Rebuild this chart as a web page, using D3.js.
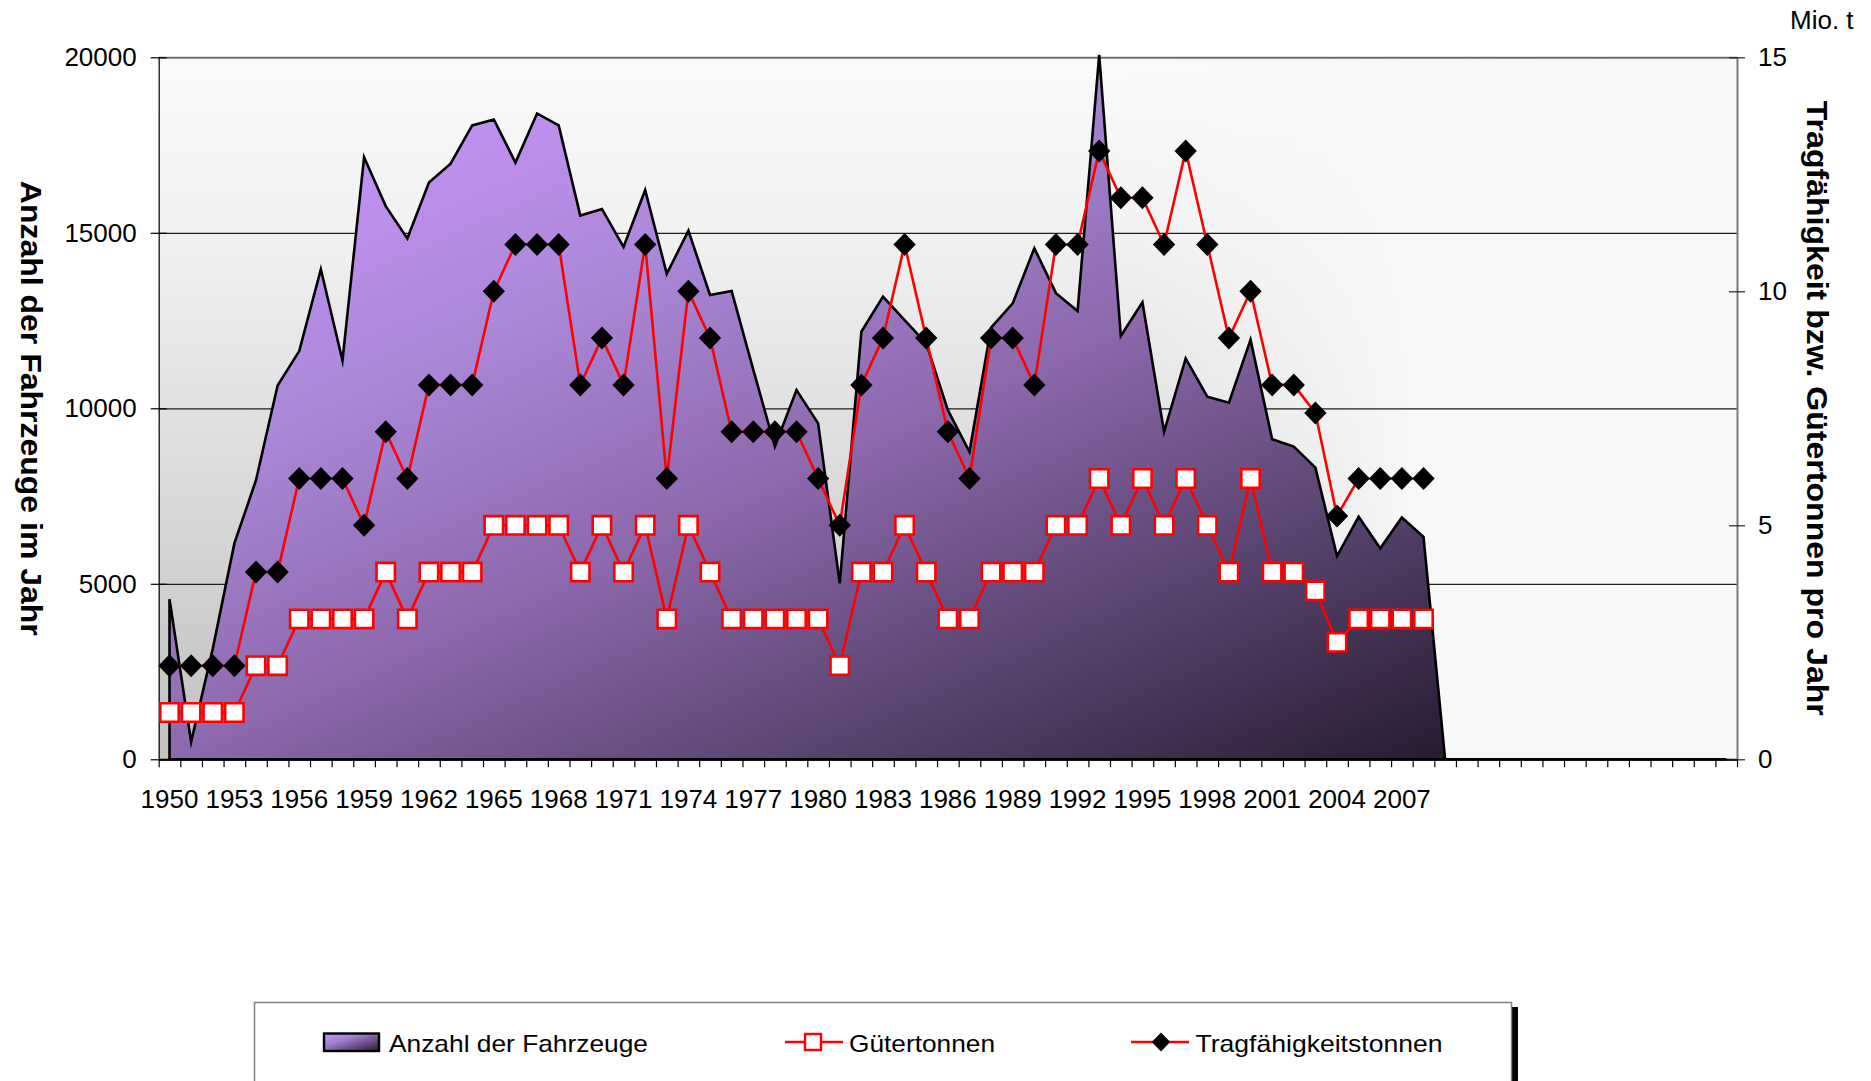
<!DOCTYPE html>
<html><head><meta charset="utf-8">
<script src="https://cdn.jsdelivr.net/npm/d3@7/dist/d3.min.js"></script>
<style>
body{margin:0;background:#fff}
svg{display:block}
text{font-family:"Liberation Sans",Arial,Helvetica,sans-serif;fill:#000}
</style>
</head><body>
<svg id="c" width="1871" height="1081"></svg>
<script>
// ---------- DATA ----------
const years = [1950,1951,1952,1953,1954,1955,1956,1957,1958,1959,
  1960,1961,1962,1963,1964,1965,1966,1967,1968,1969,
  1970,1971,1972,1973,1974,1975,1976,1977,1978,1979,
  1980,1981,1982,1983,1984,1985,1986,1987,1988,1989,
  1990,1991,1992,1993,1994,1995,1996,1997,1998,1999,
  2000,2001,2002,2003,2004,2005,2006,2007,2008,2009,
  2010,2011,2012,2013,2014,2015,2016,2017,2018,2019,
  2020,2021,2022];
const yearLabels = [1950,1953,1956,1959,1962,1965,1968,1971,1974,1977,1980,1983,1986,1989,1992,1995,1998,2001,2004,2007];

// Anzahl der Fahrzeuge (left axis)
const fahrzeuge = [4560,500,3150,6150,7950,10650,11630,13960,11360,17150,
  15760,14840,16430,16970,18060,18230,17000,18400,18060,15490,
  15680,14600,16220,13830,15060,13230,13340,11100,8910,10520,
  9570,5010,12180,13180,12510,11850,9950,8760,12300,12990,
  14560,13280,12770,20070,12060,13020,9330,11420,10330,10160,
  11950,9120,8910,8310,5790,6910,6010,6890,6340,0,
  0,0,0,0,0,0,0,0,0,0,
  0,0,0];

// Gütertonnen (Mio. t, right axis)
const gueter = [1,1,1,1,2,2,3,3,3,3,
  4,3,4,4,4,5,5,5,5,4,
  5,4,5,3,5,4,3,3,3,3,
  3,2,4,4,5,4,3,3,4,4,
  4,5,5,6,5,6,5,6,5,4,
  6,4,4,3.6,2.5,3,3,3,3];

// Tragfähigkeitstonnen (Mio. t, right axis)
const tragf = [2,2,2,2,4,4,6,6,6,5,
  7,6,8,8,8,10,11,11,11,8,
  9,8,11,6,10,9,7,7,7,7,
  6,5,8,9,11,9,7,6,9,9,
  8,11,11,13,12,12,11,13,11,9,
  10,8,8,7.4,5.2,6,6,6,6];

const leftTicks = [0,5000,10000,15000,20000];
const rightTicks = [0,5,10,15];
const seriesNames = ["Anzahl der Fahrzeuge","Gütertonnen","Tragfähigkeitstonnen"];
const leftTitle = "Anzahl der Fahrzeuge im Jahr";
const rightTitle = "Tragfähigkeit bzw. Gütertonnen pro Jahr";
const unitLabel = "Mio. t";

// ---------- LAYOUT ----------
const X0 = 158.7, X1 = 1737, Y0 = 57.3, Y1 = 759.3;
const svg = d3.select("#c");
const defs = svg.append("defs");

function grad(id, x1, y1, x2, y2, stops) {
  const g = defs.append("linearGradient").attr("id", id)
    .attr("x1", x1).attr("y1", y1).attr("x2", x2).attr("y2", y2);
  stops.forEach(s => g.append("stop").attr("offset", s[0]).attr("stop-color", s[1])
    .attr("stop-opacity", s[2] === undefined ? 1 : s[2]));
}
grad("bgV", 0, 0, 0, 1, [[0,"#fafafa"],[0.25,"#f1f1f1"],[0.5,"#e1e1e1"],[0.75,"#d1d1d1"],[1,"#c1c1c1"]]);
grad("bgH", 0, 0, 1, 0, [[0,"#f8f8f8",0],[0.6,"#f8f8f8",0],[0.8,"#f8f8f8",1],[1,"#f9f9f9",1]]);
grad("areaG", 0, 0, 1, 1, [[0,"#c898f8"],[0.15,"#c090f0"],[0.3,"#aa88d8"],[0.5,"#8c68ac"],[0.72,"#54406a"],[0.9,"#2a1d33"],[1,"#1e1426"]]);
grad("swG", 0, 0, 1, 1, [[0,"#c898f8"],[0.35,"#a080d0"],[0.75,"#5a4070"],[1,"#241a2c"]]);

const x = d3.scaleBand().domain(years).range([X0, X1]).padding(0);
const cx = d => x(d) + x.bandwidth() / 2;
const yL = d3.scaleLinear().domain([0, 20000]).range([Y1, Y0]);
const yR = d3.scaleLinear().domain([0, 15]).range([Y1, Y0]);

// plot background
svg.append("rect").attr("x", X0).attr("y", Y0).attr("width", X1 - X0).attr("height", Y1 - Y0).attr("fill", "url(#bgV)");
svg.append("rect").attr("x", X0).attr("y", Y0).attr("width", X1 - X0).attr("height", Y1 - Y0).attr("fill", "url(#bgH)");

// gridlines
const grid = svg.append("g").attr("transform", `translate(${X0},0)`)
  .call(d3.axisLeft(yL).tickValues(leftTicks).tickSize(-(X1 - X0)).tickFormat(""));
grid.select(".domain").remove();
grid.selectAll(".tick line")
  .attr("stroke", d => d === 20000 ? "#6e6e6e" : "#1e1e1e")
  .attr("stroke-width", d => d === 20000 ? 2 : 1.3);

// area
const areaGen = d3.area()
  .x((d, i) => cx(years[i]))
  .y0(yL(0))
  .y1(d => yL(d));
svg.append("path").datum(fahrzeuge)
  .attr("d", areaGen)
  .attr("fill", "url(#areaG)")
  .attr("stroke", "#000").attr("stroke-width", 2.6)
  .attr("stroke-linejoin", "miter").attr("stroke-miterlimit", 6);

// x axis: boundary ticks
const xb = d3.scaleLinear().domain([0, years.length]).range([X0, X1]);
const xTicks = svg.append("g").attr("transform", `translate(0,${Y1})`)
  .call(d3.axisBottom(xb).tickValues(d3.range(0, years.length + 1)).tickSize(8).tickSizeOuter(0).tickFormat(""));
xTicks.select(".domain").attr("stroke", "#000").attr("stroke-width", 2);
xTicks.selectAll(".tick line").attr("stroke", "#000").attr("stroke-width", 1.2);

// x axis labels
const xLab = svg.append("g").attr("transform", `translate(0,${Y1})`)
  .call(d3.axisBottom(x).tickValues(yearLabels).tickSize(0).tickPadding(30));
xLab.select(".domain").remove();
xLab.selectAll("text").attr("font-size", 26).attr("font-family", null);

// left axis
const yAxL = svg.append("g").attr("transform", `translate(${X0},0)`)
  .call(d3.axisLeft(yL).tickValues(leftTicks).tickFormat(d3.format("d")).tickSize(8).tickSizeOuter(0).tickPadding(14));
yAxL.select(".domain").attr("stroke", "#000").attr("stroke-width", 1.2);
yAxL.selectAll(".tick line").attr("x1", 8).attr("stroke", "#000").attr("stroke-width", 1.2);
yAxL.selectAll("text").attr("font-size", 26).attr("font-family", null);

// right axis
const yAxR = svg.append("g").attr("transform", `translate(${X1},0)`)
  .call(d3.axisRight(yR).tickValues(rightTicks).tickFormat(d3.format("d")).tickSize(8).tickSizeOuter(0).tickPadding(13));
yAxR.select(".domain").attr("stroke", "#7a7a7a").attr("stroke-width", 2);
yAxR.selectAll(".tick line").attr("x1", -8).attr("stroke", "#222").attr("stroke-width", 1.2);
yAxR.selectAll("text").attr("font-size", 26).attr("font-family", null);

// lines
const lineGen = d3.line().defined(d => d != null).x((d, i) => cx(years[i])).y(d => yR(d));
svg.append("path").datum(gueter).attr("d", lineGen)
  .attr("fill", "none").attr("stroke", "#ff0000").attr("stroke-width", 2.6);
svg.append("path").datum(tragf).attr("d", lineGen)
  .attr("fill", "none").attr("stroke", "#ff0000").attr("stroke-width", 2.6);

// marker symbols
const diamondType = { draw(ctx, size) { const r = Math.sqrt(size) / 2; ctx.moveTo(0, -r); ctx.lineTo(r * 0.97, 0); ctx.lineTo(0, r); ctx.lineTo(-r * 0.97, 0); ctx.closePath(); } };
const squareSym = d3.symbol().type(d3.symbolSquare).size(18.4 * 18.4);
const diamondSym = d3.symbol().type(diamondType).size(23 * 23);

svg.append("g").selectAll("path").data(gueter).join("path")
  .attr("transform", (d, i) => `translate(${cx(years[i])},${yR(d)})`)
  .attr("d", squareSym)
  .attr("fill", "#fff").attr("stroke", "#ff0000").attr("stroke-width", 2.6);
svg.append("g").selectAll("path").data(tragf).join("path")
  .attr("transform", (d, i) => `translate(${cx(years[i])},${yR(d)})`)
  .attr("d", diamondSym)
  .attr("fill", "#000");

// axis titles
svg.append("text").attr("transform", `translate(21,${(Y0 + Y1) / 2}) rotate(90)`)
  .attr("text-anchor", "middle").attr("font-size", 30).attr("font-weight", "bold")
  .attr("textLength", 455).attr("lengthAdjust", "spacingAndGlyphs").text(leftTitle);
svg.append("text").attr("transform", `translate(1807,${(Y0 + Y1) / 2}) rotate(90)`)
  .attr("text-anchor", "middle").attr("font-size", 30).attr("font-weight", "bold")
  .attr("textLength", 615).attr("lengthAdjust", "spacingAndGlyphs").text(rightTitle);
svg.append("text").attr("x", 1790).attr("y", 28.5).attr("font-size", 26).text(unitLabel);

// legend
const lg = svg.append("g");
lg.append("rect").attr("x", 1511.5).attr("y", 1007).attr("width", 6.5).attr("height", 90).attr("fill", "#000");
lg.append("rect").attr("x", 254.5).attr("y", 1002.5).attr("width", 1257).attr("height", 100)
  .attr("fill", "#fff").attr("stroke", "#808080").attr("stroke-width", 1.5);
const LY = 1042;
lg.append("rect").attr("x", 324).attr("y", 1033.5).attr("width", 55).attr("height", 17.5)
  .attr("fill", "url(#swG)").attr("stroke", "#000").attr("stroke-width", 2.4);
lg.append("text").attr("x", 389).attr("y", 1051.5).attr("font-size", 24)
  .attr("textLength", 259).attr("lengthAdjust", "spacingAndGlyphs").text(seriesNames[0]);
lg.append("line").attr("x1", 785).attr("x2", 843).attr("y1", LY).attr("y2", LY).attr("stroke", "#ff0000").attr("stroke-width", 2.6);
lg.append("path").attr("transform", `translate(813,${LY})`).attr("d", d3.symbol().type(d3.symbolSquare).size(16 * 16))
  .attr("fill", "#fff").attr("stroke", "#ff0000").attr("stroke-width", 2.4);
lg.append("text").attr("x", 849).attr("y", 1051.5).attr("font-size", 24)
  .attr("textLength", 146).attr("lengthAdjust", "spacingAndGlyphs").text(seriesNames[1]);
lg.append("line").attr("x1", 1131).attr("x2", 1189).attr("y1", LY).attr("y2", LY).attr("stroke", "#ff0000").attr("stroke-width", 2.6);
lg.append("path").attr("transform", `translate(1161,${LY})`).attr("d", d3.symbol().type(diamondType).size(19 * 19))
  .attr("fill", "#000");
lg.append("text").attr("x", 1195.5).attr("y", 1051.5).attr("font-size", 24)
  .attr("textLength", 247).attr("lengthAdjust", "spacingAndGlyphs").text(seriesNames[2]);
</script>
</body></html>
